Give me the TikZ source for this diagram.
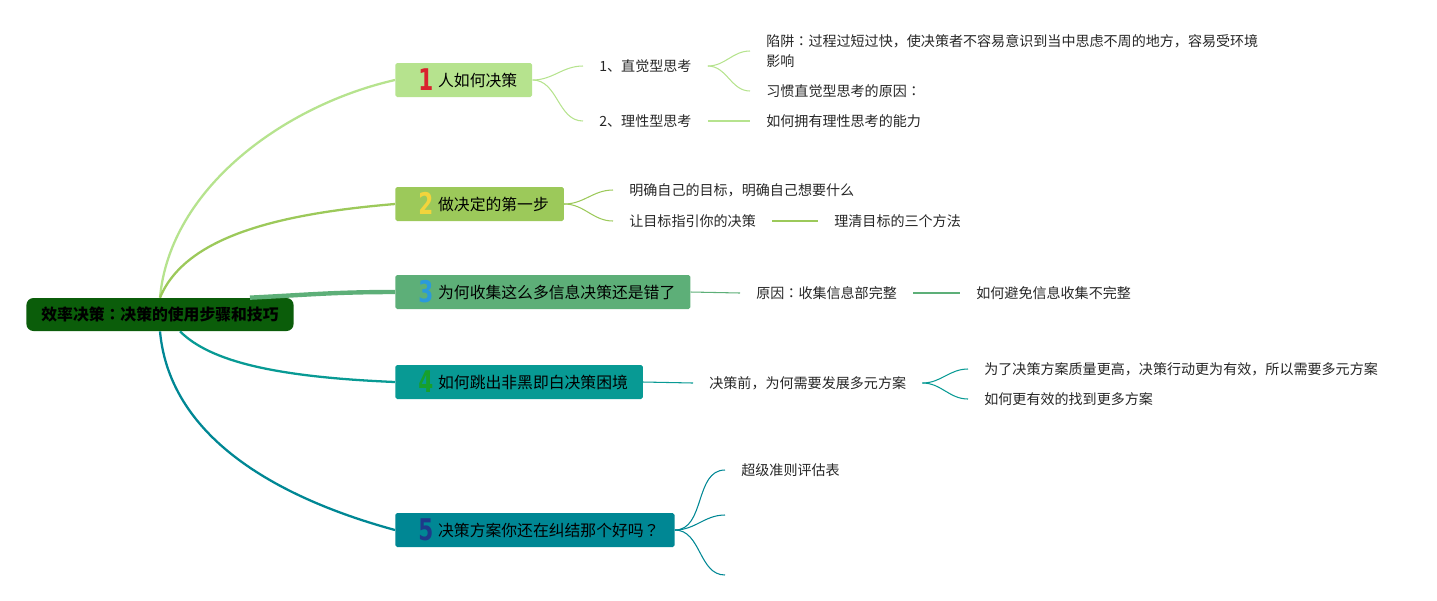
\documentclass[tikz,border=0pt]{standalone}
\usepackage{fontspec}
\setmainfont{Noto Sans CJK SC}
\newfontfamily\numfont{DejaVu Sans}
\newfontfamily\jpfont{Noto Sans CJK JP}
\usetikzlibrary{calc}
\definecolor{rootc}{HTML}{0B5D0A}
\definecolor{c1}{HTML}{B6E38E}
\definecolor{c2}{HTML}{9CC95A}
\definecolor{c3}{HTML}{5DAF78}
\definecolor{c4}{HTML}{089A94}
\definecolor{c5}{HTML}{008794}
\definecolor{n1}{HTML}{D9232E}
\definecolor{n2}{HTML}{F2D43C}
\definecolor{n3}{HTML}{2B9ADB}
\definecolor{n4}{HTML}{17A02C}
\definecolor{n5}{HTML}{1E3A8A}
\definecolor{txt}{HTML}{262626}
\newcommand{\bnum}[2]{\hspace{4.5pt}\smash{\raisebox{-2.8pt}{\scalebox{0.72}[1]{\numfont\bfseries\fontsize{17pt}{17pt}\selectfont\color{#1}#2}}}\hspace{2.8pt}}
\newcommand{\jc}{{\jpfont ：}}
\newcommand{\jq}{{\jpfont ？}}

\begin{document}
\begin{tikzpicture}[x=0.02cm,y=-0.02cm,
	root/.style={fill=rootc,rounded corners=4pt,minimum height=0.66cm,inner xsep=0.3cm,font=\fontsize{9pt}{11pt}\selectfont\bfseries},
	branch/.style={fill=#1,rounded corners=1pt,minimum height=0.68cm,inner xsep=0.3cm,anchor=west,font=\fontsize{9pt}{11pt}\selectfont},
	topic/.style={anchor=west,inner xsep=0.32cm,inner ysep=1pt,text=txt,align=left,font=\fontsize{8pt}{11.3pt}\selectfont},
	main/.style={draw=#1,line width=1.3pt},
	link/.style={draw=#1,line width=0.6pt}]
	\useasboundingbox (0,0) rectangle (1437,600);
	\node[root] (root) at (160,314.5) {效率决策\jc 决策的使用步骤和技巧};
	\node[branch=c1] (b1) at (395,80) {\bnum{n1}{1}人如何决策};
	\node[branch=c2] (b2) at (395,204) {\bnum{n2}{2}做决定的第一步};
	\node[branch=c3] (b3) at (395,292) {\bnum{n3}{3}为何收集这么多信息决策还是错了};
	\node[branch=c4] (b4) at (395,382) {\bnum{n4}{4}如何跳出非黑即白决策困境};
	\node[branch=c5] (b5) at (395,530) {\bnum{n5}{5}决策方案你还在纠结那个好吗\jq};
	\draw[main=c1] (root.north) .. controls +(10,-110) and +(-110,25) .. (b1.west);
	\draw[main=c2] (root.north) .. controls +(25,-60) and +(-120,10) .. (b2.west);
	\draw[main=c3,line width=2.5pt] ($(root.north)+(90,0)$) .. controls +(60,-3) and +(-60,0) .. (b3.west);
	\draw[main=c4] ($(root.south)+(20,0)$) .. controls +(30,30) and +(-120,-5) .. (b4.west);
	\draw[main=c5] (root.south) .. controls +(10,110) and +(-110,-30) .. (b5.west);

	\node[topic] (t11) at (583,66) {1、直觉型思考};
	\node[topic] (t12) at (583,121) {2、理性型思考};
	\node[topic] (t111) at (750,51) {陷阱\jc 过程过短过快，使决策者不容易意识到当中思虑不周的地方，容易受环境\\影响};
	\node[topic] (t112) at (750,91) {习惯直觉型思考的原因\jc};
	\node[topic] (t121) at (750,121) {如何拥有理性思考的能力};
	\draw[link=c1] (b1.east) to[out=0,in=180] (t11.west);
	\draw[link=c1] (b1.east) to[out=0,in=180] (t12.west);
	\draw[link=c1] (t11.east) to[out=0,in=180] (t111.west);
	\draw[link=c1] (t11.east) to[out=0,in=180] (t112.west);
	\draw[link=c1] (t12.east) -- (t121.west);

	\node[topic] (t21) at (613,190) {明确自己的目标，明确自己想要什么};
	\node[topic] (t22) at (613,221) {让目标指引你的决策};
	\node[topic] (t221) at (818,221) {理清目标的三个方法};
	\draw[link=c2] (b2.east) to[out=0,in=180] (t21.west);
	\draw[link=c2] (b2.east) to[out=0,in=180] (t22.west);
	\draw[link=c2] (t22.east) -- (t221.west);

	\node[topic] (t31) at (740,293) {原因\jc 收集信息部完整};
	\node[topic] (t311) at (960,293) {如何避免信息收集不完整};
	\draw[link=c3] (b3.east) -- (t31.west);
	\draw[link=c3] (t31.east) -- (t311.west);

	\node[topic] (t41) at (693,383) {决策前，为何需要发展多元方案};
	\node[topic] (t411) at (968,369) {为了决策方案质量更高，决策行动更为有效，所以需要多元方案};
	\node[topic] (t412) at (968,399) {如何更有效的找到更多方案};
	\draw[link=c4] (b4.east) -- (t41.west);
	\draw[link=c4] (t41.east) to[out=0,in=180] (t411.west);
	\draw[link=c4] (t41.east) to[out=0,in=180] (t412.west);

	\node[topic] (t51) at (725,470) {超级准则评估表};
	\coordinate (t52) at (725,515);
	\coordinate (t53) at (725,575);
	\draw[link=c5] (b5.east) to[out=0,in=180] (t51.west);
	\draw[link=c5] (b5.east) to[out=0,in=180] (t52);
	\draw[link=c5] (b5.east) to[out=0,in=180] (t53);
\end{tikzpicture}
\end{document}
